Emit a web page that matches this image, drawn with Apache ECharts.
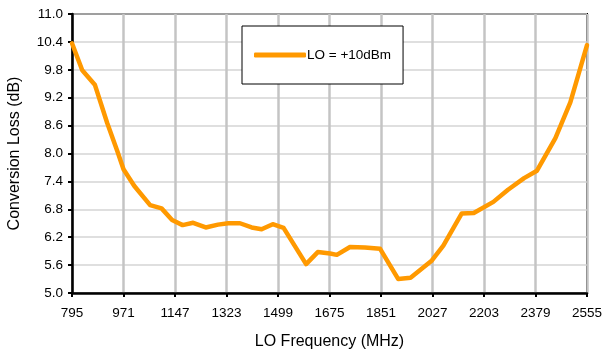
<!DOCTYPE html>
<html>
<head>
<meta charset="utf-8">
<script src="https://cdn.jsdelivr.net/npm/echarts@6/dist/echarts.min.js"></script>
<style>
html,body{margin:0;padding:0;background:#fff;}
#chart{width:602px;height:353px;}
</style>
</head>
<body>
<div id="chart"></div>
<script>
var seriesName = 'LO = +10dBm';
var freqMHz = [795, 830, 873, 915, 950, 971, 1008, 1062, 1101, 1137, 1173, 1209, 1252, 1294, 1329, 1369, 1409, 1443, 1481, 1518, 1595, 1635, 1677, 1700, 1745, 1796, 1848, 1910, 1952, 2025, 2064, 2127, 2168, 2235, 2285, 2340, 2384, 2447, 2498, 2555];
var lossDb  = [10.37, 9.79, 9.48, 8.66, 8.05, 7.66, 7.30, 6.89, 6.82, 6.57, 6.46, 6.51, 6.41, 6.47, 6.50, 6.50, 6.41, 6.37, 6.48, 6.40, 5.62, 5.88, 5.85, 5.82, 5.99, 5.98, 5.95, 5.30, 5.33, 5.70, 6.02, 6.71, 6.72, 6.96, 7.22, 7.47, 7.63, 8.33, 9.10, 10.33];
var xTicks = [795, 971, 1147, 1323, 1499, 1675, 1851, 2027, 2203, 2379, 2555];
var yTicks = [5.0, 5.6, 6.2, 6.8, 7.4, 8.0, 8.6, 9.2, 9.8, 10.4, 11.0];

var data = freqMHz.map(function (f, i) { return [f, lossDb[i]]; });
var chart = echarts.init(document.getElementById('chart'), null, {renderer: 'canvas'});
var font = 'Liberation Sans, Arial, sans-serif';
chart.setOption({
  animation: false,
  backgroundColor: '#ffffff',
  grid: {left: 72, right: 15, top: 14, bottom: 60, containLabel: false, outerBoundsMode: 'none',
    show: true, borderColor: '#000', borderWidth: 2, backgroundColor: 'transparent'},
  legend: {
    data: [seriesName],
    left: 242, top: 26,
    padding: [22, 12, 22, 12],
    borderColor: '#000', borderWidth: 1, backgroundColor: '#fff',
    itemWidth: 52, itemHeight: 5, itemGap: 0,
    icon: 'roundRect',
    textStyle: {fontFamily: font, fontSize: 13.5, color: '#000', padding: [0, 0, 0, -4]}
  },
  xAxis: {
    type: 'value', min: xTicks[0], max: xTicks[xTicks.length - 1], interval: xTicks[1] - xTicks[0],
    name: 'LO Frequency (MHz)', nameLocation: 'middle', nameGap: 41,
    nameTextStyle: {fontFamily: font, fontSize: 16, color: '#000'},
    axisLine: {show: true, lineStyle: {color: '#000', width: 2.5}},
    axisTick: {show: true, length: 4, lineStyle: {color: '#000', width: 2}},
    axisLabel: {fontFamily: font, fontSize: 13.5, color: '#000', margin: 13,
      formatter: function (v) { return String(Math.round(v)); }},
    splitLine: {show: true, lineStyle: {color: '#c4c4c4', width: 2.5}}
  },
  yAxis: {
    type: 'value', min: yTicks[0], max: yTicks[yTicks.length - 1], interval: 0.6,
    name: 'Conversion Loss (dB)', nameLocation: 'middle', nameGap: 49, nameRotate: 90,
    nameTextStyle: {fontFamily: font, fontSize: 16, color: '#000'},
    axisLine: {show: true, lineStyle: {color: '#000', width: 2.5}},
    axisTick: {show: true, length: 4, lineStyle: {color: '#000', width: 2}},
    axisLabel: {fontFamily: font, fontSize: 13.5, color: '#000', margin: 9,
      formatter: function (v) { return v.toFixed(1); }},
    splitLine: {show: true, lineStyle: {color: '#d4d4d4', width: 1.5}}
  },
  series: [{
    name: seriesName, type: 'line', data: data, symbol: 'none',
    lineStyle: {color: '#FF9900', width: 4.5, join: 'round', cap: 'round'},
    itemStyle: {color: '#FF9900'}
  }]
});
</script>
</body>
</html>
